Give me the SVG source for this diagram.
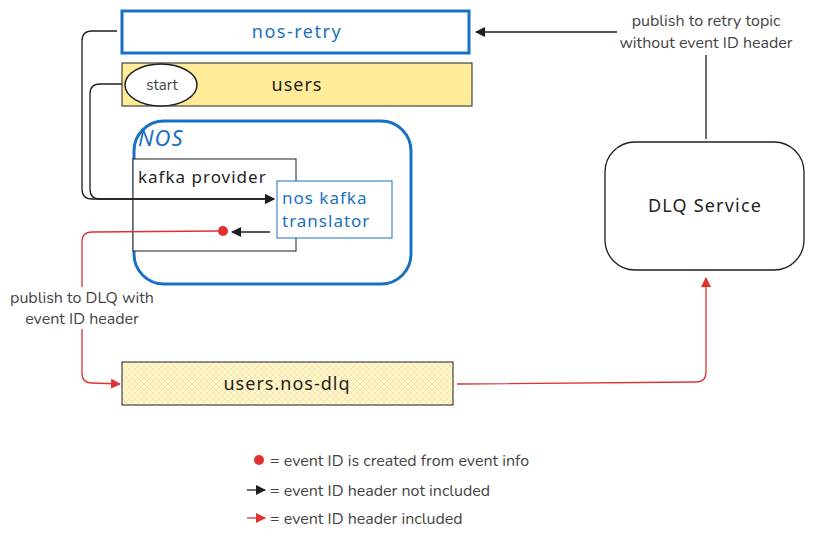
<svg xmlns="http://www.w3.org/2000/svg" width="815" height="538" viewBox="0 0 815 538">
<style>
.hand{font-family:"Noto Sans","Liberation Sans",sans-serif;letter-spacing:1px;}
.lbl{font-family:"Nunito","Noto Sans","Liberation Sans",sans-serif;font-size:16px;fill:#444;}
.blk{fill:none;stroke:#1e1e1e;stroke-width:1.3;}
.red{fill:none;stroke:#e03131;stroke-width:1.3;}
</style>
<defs>
<marker id="ab" markerWidth="10" markerHeight="10" refX="9" refY="5" orient="auto" markerUnits="userSpaceOnUse" viewBox="0 0 10 10"><path d="M0,0 L10,5 L0,10 z" fill="#1e1e1e"/></marker>
<marker id="ar" markerWidth="10" markerHeight="10" refX="9" refY="5" orient="auto" markerUnits="userSpaceOnUse" viewBox="0 0 10 10"><path d="M0,0 L10,5 L0,10 z" fill="#e03131"/></marker>
<pattern id="hatch" width="6" height="6" patternUnits="userSpaceOnUse">
<rect width="6" height="6" fill="#fff7cf"/>
<path d="M0,6 L6,0 M0,0 L6,6" stroke="#f5e29a" stroke-width="0.8"/>
</pattern>
</defs>
<rect width="815" height="538" fill="#fff"/>

<g id="nos-retry">
<rect x="122" y="11" width="347" height="42" fill="#fff" stroke="#1971c2" stroke-width="3"/>
<text x="297" y="38" class="hand" font-size="18" fill="#1971c2" text-anchor="middle" style="letter-spacing:1.5px">nos-retry</text>
</g>

<g id="users">
<rect x="122" y="63" width="350" height="43" fill="#ffec99" stroke="#1e1e1e" stroke-width="1"/>
<text x="297" y="91" class="hand" font-size="18" fill="#1e1e1e" text-anchor="middle">users</text>
</g>

<g id="start">
<ellipse cx="161" cy="85" rx="36" ry="21" fill="#fff" stroke="#1e1e1e" stroke-width="1.5"/>
<text x="162" y="90" class="lbl" font-size="15" fill="#333" text-anchor="middle" style="font-size:15px">start</text>
</g>

<g id="nos">
<rect x="134" y="121" width="277" height="163" rx="30" fill="#fff" stroke="#1971c2" stroke-width="3"/>
<text x="138" y="146" class="hand" font-size="22" font-style="italic" fill="#1971c2">NOS</text>
</g>

<g id="kafka-provider">
<rect x="133" y="159" width="163" height="92" fill="#fff" stroke="#1e1e1e" stroke-width="1"/>
<text x="138" y="183" class="hand" font-size="17" fill="#1e1e1e">kafka provider</text>
</g>

<g id="nos-kafka-translator">
<rect x="277" y="181" width="115" height="57" fill="#fff" stroke="#1971c2" stroke-width="1"/>
<text x="282" y="204" class="hand" font-size="17" fill="#1971c2">nos kafka</text>
<text x="282" y="227" class="hand" font-size="17" fill="#1971c2">translator</text>
</g>

<g id="dlq-service">
<rect x="605" y="142" width="199" height="128" rx="30" fill="#fff" stroke="#1e1e1e" stroke-width="1.3"/>
<text x="705" y="212" class="hand" font-size="18" fill="#1e1e1e" text-anchor="middle" style="letter-spacing:1.2px">DLQ Service</text>
</g>

<g id="users-nos-dlq">
<rect x="122" y="362" width="331" height="43" fill="url(#hatch)" stroke="#1e1e1e" stroke-width="1"/>
<text x="287" y="390" class="hand" font-size="18" fill="#1e1e1e" text-anchor="middle">users.nos-dlq</text>
</g>

<g id="connectors">
<path class="blk" d="M117,31 L92,31 Q82,31 82,41 L82,189 Q82,199 92,199 L274,199" marker-end="url(#ab)"/>
<path class="blk" d="M122,84 L100,84 Q90,84 90,94 L90,189 Q90,199 100,199 L274,199" marker-end="url(#ab)"/>
<path class="blk" d="M270,232 L232,232" marker-end="url(#ab)"/>
<circle cx="223" cy="231" r="5" fill="#e03131"/>
<path class="red" d="M218,231 L92,232 Q82,232 82,242 L82,373 Q82,383 92,383 L120,384" marker-end="url(#ar)"/>
<path class="red" d="M457,384 L696,382 Q706,382 706,372 L706,278" marker-end="url(#ar)"/>
<path class="blk" d="M706,139 L706,55"/>
<path class="blk" d="M617,32 L476,32" marker-end="url(#ab)"/>
</g>

<g id="labels">
<rect x="5" y="287" width="154" height="42" fill="#fff"/>
<text x="82" y="303" class="lbl" text-anchor="middle">publish to DLQ with</text>
<text x="82" y="324" class="lbl" text-anchor="middle">event ID header</text>
<text x="706" y="26" class="lbl" text-anchor="middle">publish to retry topic</text>
<text x="706" y="48" class="lbl" text-anchor="middle">without event ID header</text>
</g>

<g id="legend">
<circle cx="259" cy="460" r="5" fill="#e03131"/>
<text x="270" y="466" class="lbl">= event ID is created from event info</text>
<path class="blk" d="M247,490 L265,490" marker-end="url(#ab)"/>
<text x="270" y="496" class="lbl">= event ID header not included</text>
<path class="red" d="M247,518 L265,518" marker-end="url(#ar)"/>
<text x="270" y="524" class="lbl">= event ID header included</text>
</g>
</svg>
